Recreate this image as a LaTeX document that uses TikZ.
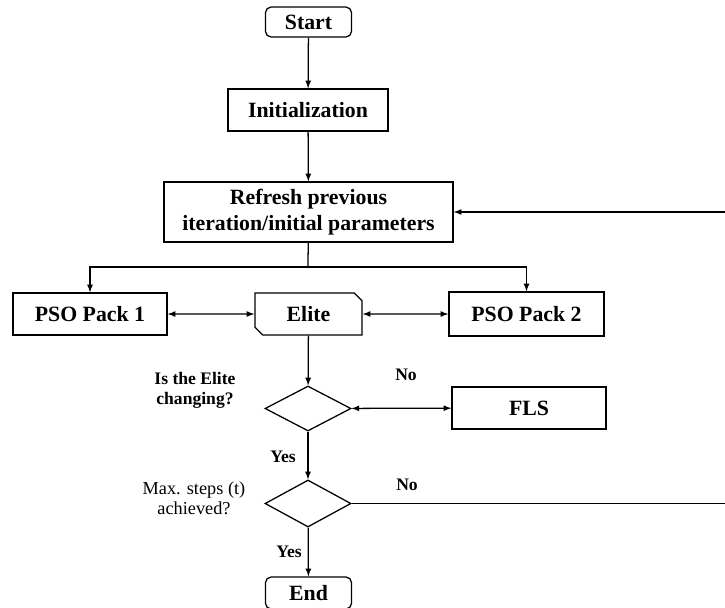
\documentclass[tikz,border=0pt]{standalone}
\usepackage{fontspec}
\setmainfont{Liberation Serif}
\usepackage{tikz}
\usetikzlibrary{arrows,positioning,shapes.geometric,shapes.misc}

\tikzset{
	box/.style={draw, line width=0.9pt, inner sep=2pt, font=\fontsize{15.5}{18}\selectfont\bfseries},
	term/.style={box, rounded corners=4pt, minimum width=2.15cm, minimum height=0.75cm},
	proc/.style={box, minimum height=1.05cm},
	cond/.style={draw, line width=0.9pt, diamond, inner sep=0pt, minimum width=2.15cm, minimum height=1.15cm},
	lbl/.style={font=\fontsize{12.5}{14.2}\selectfont\bfseries, align=center},
	flow/.style={line width=0.9pt, -latex},
	both/.style={line width=0.9pt, latex-latex},
}

\begin{document}
\begin{tikzpicture}[x=0.025cm,y=-0.025cm]
	\useasboundingbox (0,0) rectangle (725,607);

		\node[term] (start) at (308.5,22) {Start};
		\node[proc,minimum width=4cm] (init) at (308,110) {Initialization};
		\node[proc,minimum width=7.225cm,minimum height=1.5cm,align=center] (refresh) at (308.5,212) {Refresh previous\\iteration/initial parameters};
			\coordinate (split) at (308,267);

		\node[proc,minimum width=3.85cm] (pso1) at (90,314) {PSO Pack 1};
		\node[box,chamfered rectangle,chamfered rectangle corners={north east,south west},chamfered rectangle xsep=2.5pt,minimum width=2.675cm,minimum height=1.05cm] (elite) at (308.5,314) {Elite};
		\node[proc,minimum width=3.875cm,minimum height=1.1cm] (pso2) at (526.5,314) {PSO Pack 2};

		\node[cond,minimum height=1.125cm] (d1) at (308,408.5) {};
		\node[proc,minimum width=3.85cm] (fls) at (529,408) {FLS};
		\node[cond,minimum height=1.175cm] (d2) at (308,503.5) {};
		\node[term,minimum height=0.8cm] (end) at (308.5,593) {End};
			\coordinate (back) at (730,350);

	\node[lbl] (q1) at (195,390) {Is the Elite\\changing?};
	\node[lbl,font=\fontsize{13}{14.2}\selectfont] (q2) at (194,498) {Max. steps (t)\\achieved?};
	\node[lbl] (no1) at (406,375) {No};
	\node[lbl] (no2) at (407,485) {No};
	\node[lbl] (yes1) at (283,457) {Yes};
	\node[lbl] (yes2) at (289,552) {Yes};

		\draw[flow] (start) -- (init);
		\draw[flow] (init) -- (refresh);
		\draw[line width=0.9pt] (refresh) -- (split);
		\draw[flow] (split) -| (pso1);
		\draw[flow] (split) -| (pso2);
		\draw[both] (pso1) -- (elite);
		\draw[both] (elite) -- (pso2);
		\draw[flow] (elite) -- (d1);
		\draw[both] (d1) -- (fls);
		\draw[flow] (d1) -- (d2);
		\draw[flow] (d2) -- (end);
		\draw[flow] (d2) -| (back) |- (refresh);
	\end{tikzpicture}
\end{document}
